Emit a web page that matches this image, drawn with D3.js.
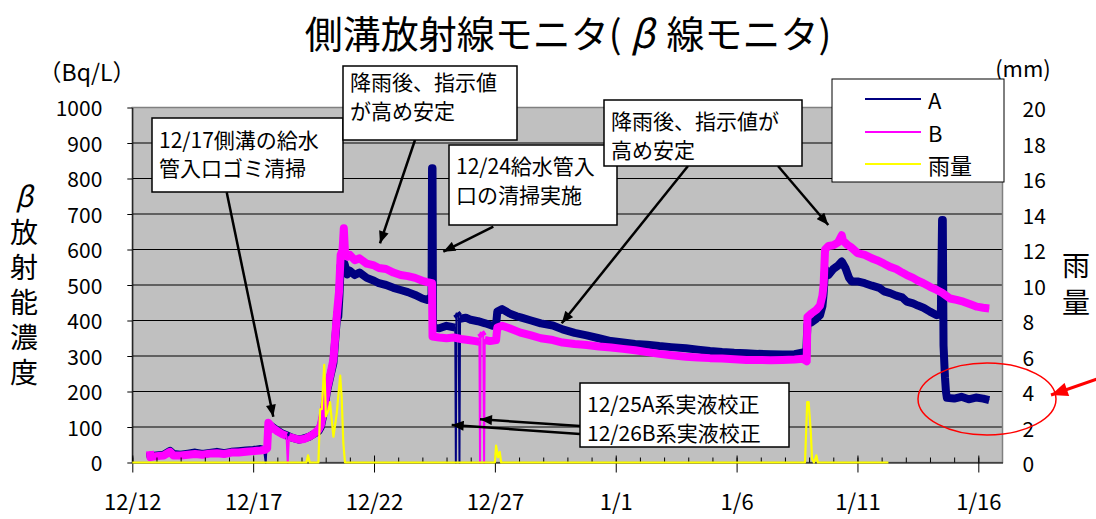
<!DOCTYPE html>
<html><head><meta charset="utf-8">
<script src="https://cdn.jsdelivr.net/npm/d3@7"></script>
<style>
body{margin:0;background:#fff;}
svg{display:block;}
text{font-family:"Noto Sans CJK JP","Noto Sans",sans-serif;fill:#000;}
</style></head><body><svg id="c" width="1096" height="519"></svg>
<script>
// ---------- data ----------
const startDate = "2013-12-12";
const endDate = "2014-01-17";
const xTickLabels = ["12/12","12/17","12/22","12/27","1/1","1/6","1/11","1/16"];
const yLeftTicks = [0,100,200,300,400,500,600,700,800,900,1000];
const yRightTicks = [0,2,4,6,8,10,12,14,16,18,20];
const seriesNames = ["A","B","雨量"];
const seriesColors = ["#000080","#FF00FF","#FFFF00"];
// [days after 12/12 00:00, Bq/L]
const seriesA = [[0.73,28],[0.75,18],[1.0,20],[1.3,22],[1.56,33],[1.7,24],[2.0,22],[2.3,25],[2.6,28],[2.9,24],[3.2,27],[3.5,30],[3.8,26],[4.1,30],[4.4,32],[4.7,34],[5.0,35],[5.3,38],[5.45,35],[5.52,0],[5.6,110],[5.8,100],[6.0,90],[6.2,82],[6.4,76],[6.6,70],[6.9,64],[7.1,68],[7.3,72],[7.5,80],[7.7,88],[7.8,100],[7.95,150],[8.05,200],[8.2,245],[8.32,280],[8.4,350],[8.48,420],[8.52,410],[8.57,470],[8.62,555],[8.7,548],[8.78,560],[8.9,530],[9.0,540],[9.2,528],[9.4,535],[9.7,520],[10.0,512],[10.2,505],[10.5,500],[10.8,492],[11.1,486],[11.4,480],[11.7,472],[12.0,462],[12.2,458],[12.38,468],[12.4,829],[12.42,829],[12.44,380],[12.7,378],[13.0,385],[13.36,380],[13.385,0],[13.41,420],[13.5,412],[13.535,0],[13.56,405],[13.8,408],[14.0,402],[14.3,398],[14.6,392],[14.9,385],[15.05,388],[15.1,425],[15.3,432],[15.6,420],[15.9,412],[16.1,408],[16.5,400],[16.9,392],[17.4,386],[17.8,375],[18.3,365],[18.8,358],[19.3,350],[19.8,342],[20.3,338],[20.8,334],[21.3,332],[21.8,328],[22.3,325],[22.9,322],[23.4,318],[23.9,314],[24.4,311],[24.9,309],[25.4,308],[25.9,306],[26.4,305],[26.9,304],[27.4,305],[27.75,310],[27.88,305],[27.93,390],[28.1,395],[28.3,405],[28.45,415],[28.55,440],[28.6,475],[28.66,545],[28.8,528],[29.0,545],[29.2,555],[29.35,566],[29.5,548],[29.65,520],[29.76,510],[30.0,510],[30.3,505],[30.6,498],[30.9,492],[31.1,482],[31.35,477],[31.6,470],[31.85,465],[32.04,453],[32.3,448],[32.5,442],[32.73,436],[33.0,425],[33.28,415],[33.45,418],[33.5,683],[33.53,683],[33.56,330],[33.62,240],[33.66,200],[33.7,182],[34.0,180],[34.3,185],[34.6,178],[34.9,183],[35.2,180],[35.45,176]];
const seriesB = [[0.73,32],[0.75,15],[1.0,18],[1.3,20],[1.56,30],[1.7,20],[2.0,20],[2.3,22],[2.6,24],[2.9,22],[3.2,25],[3.5,26],[3.8,24],[4.1,28],[4.4,28],[4.7,30],[5.0,32],[5.3,34],[5.5,36],[5.58,40],[5.63,112],[5.8,98],[6.0,88],[6.2,80],[6.38,75],[6.43,0],[6.48,72],[6.7,68],[6.9,64],[7.1,66],[7.3,72],[7.5,80],[7.7,92],[7.8,105],[7.95,160],[8.05,205],[8.2,250],[8.32,290],[8.4,360],[8.48,430],[8.55,480],[8.62,585],[8.7,600],[8.75,660],[8.8,590],[8.9,580],[9.0,585],[9.2,570],[9.4,575],[9.7,560],[10.0,555],[10.2,548],[10.5,545],[10.8,535],[11.1,528],[11.4,525],[11.7,520],[12.0,512],[12.2,508],[12.4,505],[12.42,355],[12.7,352],[13.0,350],[13.3,352],[13.6,348],[13.9,345],[14.2,342],[14.36,340],[14.385,0],[14.41,366],[14.52,355],[14.555,0],[14.58,345],[14.8,342],[15.05,345],[15.1,380],[15.3,385],[15.6,378],[15.9,370],[16.1,365],[16.5,358],[16.9,350],[17.4,345],[17.8,338],[18.3,334],[18.8,331],[19.3,327],[19.8,324],[20.3,320],[20.8,316],[21.3,311],[21.8,306],[22.3,302],[22.9,298],[23.4,296],[23.9,294],[24.4,293],[24.9,291],[25.4,289],[25.9,289],[26.4,288],[26.9,289],[27.4,290],[27.75,292],[27.9,285],[27.93,410],[28.1,420],[28.3,430],[28.45,442],[28.55,470],[28.6,500],[28.66,600],[28.8,610],[29.0,612],[29.2,620],[29.35,640],[29.4,625],[29.6,612],[29.76,605],[30.0,590],[30.3,585],[30.6,575],[30.8,570],[31.1,560],[31.35,551],[31.6,545],[31.85,535],[32.04,528],[32.3,520],[32.5,512],[32.73,505],[33.0,495],[33.28,486],[33.5,478],[33.83,462],[34.1,458],[34.38,453],[34.7,445],[34.94,439],[35.2,436],[35.45,434]];
// [days after 12/12 00:00, mm]
const rain = [[0,0],[7.2,0],[7.27,0.4],[7.34,0],[7.7,0],[7.77,3.0],[7.84,3.0],[7.94,5.5],[8.01,2.6],[8.1,2.9],[8.18,3.4],[8.32,1.45],[8.46,2.8],[8.6,4.9],[8.66,3.7],[8.73,1.1],[8.8,0],[15.0,0],[15.05,0.95],[15.13,0.3],[15.2,0.6],[15.26,0],[27.83,0],[27.92,3.4],[27.98,3.4],[28.07,1.7],[28.12,0.2],[28.2,0],[28.3,0.4],[28.36,0],[31.28,0]];

// ---------- annotations ----------
const notes = [
  {lines:["12/17側溝の給水","管入口ゴミ清掃"], box:[152,118,191,74], ys:[139,167]},
  {lines:["降雨後、指示値","が高め安定"], box:[343,66,174,74], ys:[81,110]},
  {lines:["12/24給水管入","口の清掃実施"], box:[449,145,168,80], ys:[165,194]},
  {lines:["降雨後、指示値が","高め安定"], box:[604,100,198,66], ys:[120,149]},
  {lines:["12/25A系実液校正","12/26B系実液校正"], box:[580,383,209,64], ys:[403,432]}
];
const arrows = [[226.7,192.3,273.3,416.7],[415,140,380,243.3],[493.3,226.7,443.3,251.7],[688,166,561.7,323.3],[778,166,828.3,225],[580,426,480,419.3],[580,434,451.7,425]];

// ---------- drawing ----------
const svg = d3.select("#c");
const L = 132.3, R = 1002.5, T = 107.5, B = 462.5;
const parse = d3.timeParse("%Y-%m-%d");
const d0 = parse(startDate), d1 = parse(endDate);
const x = d3.scaleTime().domain([d0, d1]).range([L, R]);
const y = d3.scaleLinear().domain([0,1000]).range([B, T]);
const yR = d3.scaleLinear().domain([0,20]).range([B, T]);
const toDate = d => new Date(d0.getTime() + d*864e5);
const majorDates = xTickLabels.map(s => {
  const [m, dd] = s.split("/").map(Number);
  return new Date(m === 12 ? 2013 : 2014, m-1, dd);
});

svg.append("rect").attr("x",L).attr("y",T).attr("width",R-L).attr("height",B-T).attr("fill","#C0C0C0");
// grid
svg.append("g").selectAll("line").data(yLeftTicks.filter(v => v>0 && v<1000)).join("line")
  .attr("x1",L).attr("x2",R).attr("y1",d=>y(d)).attr("y2",d=>y(d)).attr("stroke","#000").attr("stroke-width",1);
svg.append("rect").attr("x",L).attr("y",T).attr("width",R-L).attr("height",B-T).attr("fill","none").attr("stroke","#808080").attr("stroke-width",1.5);

// series: noisy band (thick) + thin trace for instantaneous drops
const line = d3.line().x(d => x(toDate(d[0]))).y(d => y(d[1]));
const band = d3.line().defined(d => d[1] > 0).x(d => x(toDate(d[0]))).y(d => y(d[1]));
const lineR = d3.line().x(d => x(toDate(d[0]))).y(d => yR(d[1]));
[seriesA, seriesB].forEach((s,i)=>{
  svg.append("path").datum(s).attr("d",line).attr("fill","none").attr("stroke",seriesColors[i]).attr("stroke-width",2).attr("stroke-linejoin","round");
  svg.append("path").datum(s).attr("d",band).attr("fill","none").attr("stroke",seriesColors[i]).attr("stroke-width",8).attr("stroke-linejoin","round");
});

// axes
const fs = "21px";
const gL = svg.append("g").attr("transform",`translate(${L},0)`)
  .call(d3.axisLeft(y).tickValues(yLeftTicks).tickFormat(d3.format("d")).tickSize(5).tickPadding(25).tickSizeOuter(0));
gL.select(".domain").attr("stroke","#000");
gL.selectAll("text").style("font-size",fs).attr("dy","0.4em");
const gB = svg.append("g").attr("transform",`translate(0,${B})`)
  .call(d3.axisBottom(x).tickValues(majorDates).tickFormat((d,i)=>xTickLabels[i]).tickSize(10).tickPadding(22).tickSizeOuter(0));
gB.select(".domain").attr("stroke","#000");
gB.selectAll("text").style("font-size","22px");
const gM = svg.append("g").attr("transform",`translate(0,${B})`)
  .call(d3.axisBottom(x).tickValues(d3.timeDay.range(d0, d1)).tickFormat("").tickSize(-5).tickSizeOuter(0));
gM.select(".domain").remove();
const gM2 = svg.append("g").attr("transform",`translate(0,${B})`)
  .call(d3.axisBottom(x).tickValues(majorDates).tickFormat("").tickSize(-7).tickSizeOuter(0));
gM2.select(".domain").remove();
const gR = svg.append("g").attr("transform",`translate(${R},0)`)
  .call(d3.axisRight(yR).tickValues(yRightTicks).tickSize(0).tickPadding(20));
gR.select(".domain").remove();
gR.selectAll("text").style("font-size",fs).attr("dy","0.45em");

// rain on top
svg.append("path").datum(rain).attr("d",lineR).attr("fill","none").attr("stroke",seriesColors[2]).attr("stroke-width",2.2).attr("stroke-linejoin","round");

// titles
const title = svg.append("text").attr("x",568).attr("y",31).attr("text-anchor","middle").attr("dominant-baseline","central").style("font-size","38px");
title.append("tspan").text("側溝放射線モニタ(");
title.append("tspan").attr("dx",9).attr("font-style","italic").text("β");
title.append("tspan").attr("dx",12).text("線モニタ)");
svg.append("text").attr("x",87).attr("y",71).attr("text-anchor","middle").attr("dominant-baseline","central").style("font-size","23px").text("（Bq/L）");
svg.append("text").attr("x",1023).attr("y",67).attr("text-anchor","middle").attr("dominant-baseline","central").style("font-size","22px").text("(mm)");
// left axis title (vertical)
svg.append("text").attr("x",24).attr("y",195).attr("text-anchor","middle").attr("dominant-baseline","central")
  .attr("font-style","italic").style("font-size","28px").text("β");
svg.append("text").attr("x",24).attr("y",218).attr("text-anchor","start")
  .style("font-size","28px").style("writing-mode","vertical-rl").style("text-orientation","upright")
  .style("letter-spacing","7px").text("放射能濃度");
svg.append("text").attr("x",1076).attr("y",251).attr("text-anchor","start")
  .style("font-size","28px").style("writing-mode","vertical-rl").style("text-orientation","upright")
  .style("letter-spacing","9px").text("雨量");

// legend
const lg = svg.append("g");
lg.append("rect").attr("x",832).attr("y",79).attr("width",172).attr("height",103).attr("fill","#fff").attr("stroke","#000");
const legY = [99,132,164];
seriesNames.forEach((n,i)=>{
  lg.append("line").attr("x1",865).attr("x2",921).attr("y1",legY[i]).attr("y2",legY[i]).attr("stroke",seriesColors[i]).attr("stroke-width",2);
  lg.append("text").attr("x",928).attr("y",legY[i]).attr("dominant-baseline","central").style("font-size","22px").text(n);
});

// arrows + annotation boxes
const defs = svg.append("defs");
defs.append("marker").attr("id","ah").attr("viewBox","0 0 12 10").attr("refX",12).attr("refY",5)
  .attr("markerWidth",13).attr("markerHeight",10).attr("markerUnits","userSpaceOnUse").attr("orient","auto")
  .append("path").attr("d","M0,0L12,5L0,10Z").attr("fill","#000");
defs.append("marker").attr("id","ahr").attr("viewBox","0 0 12 10").attr("refX",12).attr("refY",5)
  .attr("markerWidth",18).attr("markerHeight",14).attr("markerUnits","userSpaceOnUse").attr("orient","auto")
  .append("path").attr("d","M0,0L12,5L0,10Z").attr("fill","#FF0000");
svg.append("g").selectAll("line").data(arrows).join("line")
  .attr("x1",d=>d[0]).attr("y1",d=>d[1]).attr("x2",d=>d[2]).attr("y2",d=>d[3])
  .attr("stroke","#000").attr("stroke-width",2.5).attr("marker-end","url(#ah)");
notes.forEach(n=>{
  const g = svg.append("g");
  g.append("rect").attr("x",n.box[0]).attr("y",n.box[1]).attr("width",n.box[2]).attr("height",n.box[3]).attr("fill","#fff").attr("stroke","#000").attr("stroke-width",1.5);
  n.lines.forEach((t,i)=>{
    g.append("text").attr("x",n.box[0]+7).attr("y",n.ys[i]).attr("dominant-baseline","central").style("font-size","21px").text(t);
  });
});

// red ellipse + arrow
svg.append("ellipse").attr("cx",987).attr("cy",399).attr("rx",69).attr("ry",36).attr("fill","none").attr("stroke","#FF0000").attr("stroke-width",1.5);
svg.append("line").attr("x1",1100).attr("y1",378).attr("x2",1051).attr("y2",395).attr("stroke","#FF0000").attr("stroke-width",3).attr("marker-end","url(#ahr)");
</script></body></html>
